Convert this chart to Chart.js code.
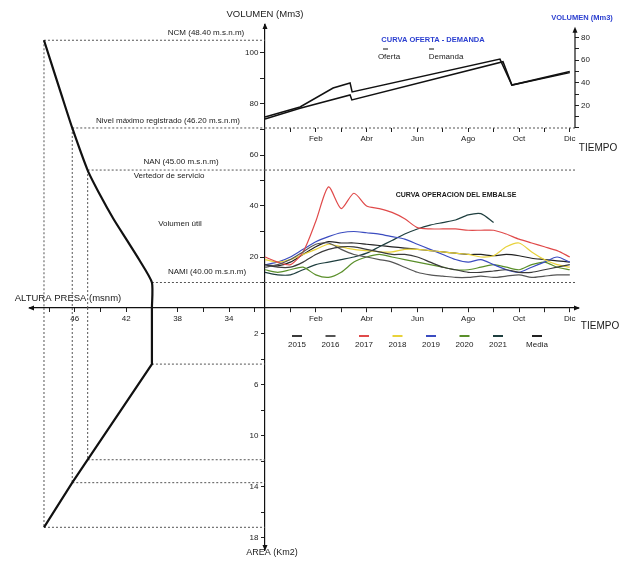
<!DOCTYPE html>
<html>
<head>
<meta charset="utf-8">
<script src="https://cdn.jsdelivr.net/npm/chart.js@4.4.1/dist/chart.umd.min.js"></script>
<style>
  html, body { margin: 0; padding: 0; background: #fff; }
  canvas { display: block; }
</style>
</head>
<body>
<canvas id="embalse" width="619" height="562"></canvas>
<script>
// Curva altura - volumen y altura - area
const alturaVol = [40, 41, 42, 43, 44, 45, 46.2, 47, 48.4];
const volumen = [10, 19, 27, 35, 44, 54, 70.6, 83, 105];
const alturaArea = [40, 45, 46.2, 48.4];
const area = [4.4, 11.9, 13.7, 17.2];

// Niveles de referencia: NCM, max. registrado, NAN, NAMI
const niveles = [48.4, 46.2, 45.0, 40.0];
const volNivel = [105, 70.6, 54.1, 10];
const areaNivel = [17.2, 13.7, 11.9, 4.4];

// Curva oferta - demanda (mes, Mm3)
const mesOferta = [0, 1.38, 2.68, 3.35, 3.43, 9.25, 9.72, 12];
const oferta = [9.7, 18.6, 35.4, 39.8, 31.9, 61, 38, 50];
const mesDemanda = [0, 1.38, 3.35, 3.42, 9.37, 9.72, 12];
const demanda = [8, 17.4, 29.2, 24.8, 58.7, 38, 49];

// Curva de operacion del embalse (cada medio mes)
const tOper = [0, 0.5, 1, 1.5, 2, 2.5, 3, 3.5, 4, 4.5, 5, 5.5, 6, 6.5, 7, 7.5, 8, 8.5, 9, 9.5, 10, 10.5, 11, 11.5, 12];
const op2015 = [17, 16, 16, 18, 21, 23, 24, 24, 23, 22, 21, 21, 20, 18, 16, 15, 14, 14, 14.5, 15, 14, 14, 15, 16, 17];
const op2016 = [16, 17, 19, 22, 25, 25.5, 23, 21, 20, 19, 18, 16, 14, 13, 12.5, 12, 12, 12.5, 12, 12.5, 13, 12, 12.5, 13, 13];
const op2017 = [20, 18, 17, 22, 34, 47.5, 39, 45, 40, 39, 37.5, 35, 31.5, 31, 31, 31, 30.5, 30.5, 30.5, 29, 27, 25.5, 24, 22.5, 20];
const op2018 = [19, 18, 19, 21, 23, 25, 24, 23, 22.5, 22, 22, 23, 23, 22.5, 22, 21.5, 21, 20, 20.5, 24, 25.5, 22, 19, 17, 16];
const op2019 = [17, 18, 20, 23, 26, 28, 29.5, 30, 29.5, 29, 28, 27, 25, 23, 21, 19, 18, 19, 17, 15, 14, 16, 18, 20, 18];
const op2020 = [15, 14, 15, 16, 13, 12, 14, 18, 20, 21, 20, 19, 18, 17, 16, 15, 15, 16, 17, 16, 15, 17, 18, 16, 15];
const op2021 = [14, 13, 13, 15, 17, 18, 19, 20, 21.5, 24, 26.5, 29, 31, 32.5, 33.5, 34.5, 36.5, 37, 33.5];
const opMedia = [17, 16.5, 18, 21, 24, 26, 25.5, 25.5, 25, 24.5, 24, 23.5, 23, 22.5, 22, 21.5, 21, 21, 20.5, 21, 20.5, 19.5, 19, 18.5, 18];

const anios = ['2015', '2016', '2017', '2018', '2019', '2020', '2021', 'Media'];
const colores = ['#3a3a3a', '#555555', '#e04a4a', '#e8d23a', '#3b4cc0', '#5a8f2a', '#1f3f3f', '#222222'];
const meses = ['Ene', 'Feb', 'Mar', 'Abr', 'May', 'Jun', 'Jul', 'Ago', 'Sep', 'Oct', 'Nov', 'Dic'];

// ejes: ubicacion en pixeles
const AREA = { left: 30, right: 575, top: 25, bottom: 550 };
const ORIG = { x: 265, y: 308 };
const pxMes = 25.4, pxAltura = 12.85, pxVol = 2.55, pxArea = 12.75, pxVolR = 1.13, y0R = 128;
const h0 = 31.2; // altura en el cruce de los ejes

const zip = (xs, ys) => ys.map((v, i) => ({ x: xs[i], y: v }));
const rango = (a, b, s) => { const r = []; for (let v = a; v <= b + 1e-9; v += s) r.push({ value: v }); return r; };

function punteado(xAxisID, yAxisID, pts) {
  return { data: pts, xAxisID, yAxisID, borderColor: '#555', borderWidth: 1,
    borderDash: [2, 2], pointRadius: 0, tension: 0, order: 10 };
}

const datasets = [];

// curva altura - volumen / area
datasets.push({ data: [{ x: alturaVol[0], y: 0 }].concat(zip(alturaVol, volumen)), xAxisID: 'xh', yAxisID: 'y',
  borderColor: '#111', borderWidth: 2.2, pointRadius: 0, tension: 0.2 });
datasets.push({ data: [{ x: alturaArea[0], y: 0 }].concat(zip(alturaArea, area)), xAxisID: 'xh', yAxisID: 'yA',
  borderColor: '#111', borderWidth: 2.2, pointRadius: 0, tension: 0 });

// lineas de referencia punteadas
niveles.forEach((h, i) => {
  if (i < 3) {
    datasets.push(punteado('xh', 'y', [{ x: h, y: volNivel[i] }, { x: h, y: 0 }]));
    datasets.push(punteado('xh', 'yA', [{ x: h, y: 0 }, { x: h, y: areaNivel[i] }]));
  }
  datasets.push(punteado('xh', 'y', [{ x: h, y: volNivel[i] }, { x: h0, y: volNivel[i] }]));
  datasets.push(punteado('xh', 'yA', [{ x: h, y: areaNivel[i] }, { x: h0, y: areaNivel[i] }]));
  if (i >= 2) datasets.push(punteado('xm', 'y', [{ x: 0, y: volNivel[i] }, { x: 12.4, y: volNivel[i] }]));
});
datasets.push(punteado('xm', 'yR', [{ x: 0, y: 0 }, { x: 12.4, y: 0 }]));

// oferta - demanda
datasets.push({ label: 'Oferta', data: zip(mesOferta, oferta), xAxisID: 'xm', yAxisID: 'yR',
  borderColor: '#111', borderWidth: 1.5, pointRadius: 0, tension: 0 });
datasets.push({ label: 'Demanda', data: zip(mesDemanda, demanda), xAxisID: 'xm', yAxisID: 'yR',
  borderColor: '#111', borderWidth: 1.5, pointRadius: 0, tension: 0 });

// operacion
[op2015, op2016, op2017, op2018, op2019, op2020, op2021, opMedia].forEach((serie, i) => {
  datasets.push({ label: anios[i], data: zip(tOper, serie), xAxisID: 'xm', yAxisID: 'y',
    borderColor: colores[i], borderWidth: 1.2, pointRadius: 0, tension: 0.25 });
});

const fontTick = { family: 'Liberation Sans', size: 8 };
const gridTick = { drawOnChartArea: false, tickLength: 4, color: '#222', lineWidth: 1 };

const textos = [
  { t: 'VOLUMEN (Mm3)', x: 265, y: 14, f: '9.5px' },
  { t: 'NCM (48.40 m.s.n.m)', x: 206, y: 33, f: '8px' },
  { t: 'Nivel máximo registrado (46.20 m.s.n.m)', x: 168, y: 121, f: '8px' },
  { t: 'NAN (45.00 m.s.n.m)', x: 181, y: 162, f: '8px' },
  { t: 'Vertedor de servicio', x: 169, y: 176, f: '8px' },
  { t: 'Volumen útil', x: 180, y: 224, f: '8px' },
  { t: 'NAMI (40.00 m.s.n.m)', x: 207, y: 272, f: '8px' },
  { t: 'ALTURA PRESA (msnm)', x: 68, y: 298, f: '9.5px' },
  { t: 'AREA (Km2)', x: 272, y: 553, f: '9px' },
  { t: 'TIEMPO', x: 598, y: 148, f: '10px' },
  { t: 'TIEMPO', x: 600, y: 326, f: '10px' },
  { t: 'VOLUMEN (Mm3)', x: 582, y: 18, f: 'bold 7.5px', c: '#2b3fd0' },
  { t: 'CURVA OFERTA - DEMANDA', x: 433, y: 40, f: 'bold 7.5px', c: '#2b3fd0' },
  { t: 'Oferta', x: 389, y: 57, f: '8px' },
  { t: 'Demanda', x: 446, y: 57, f: '8px' },
  { t: 'CURVA OPERACION DEL EMBALSE', x: 456, y: 195, f: 'bold 7px' }
];

function flecha(ctx, x, y, dir) {
  const s = 4;
  ctx.beginPath();
  if (dir === 'up') { ctx.moveTo(x, y); ctx.lineTo(x - s / 2 - 0.5, y + s + 2); ctx.lineTo(x + s / 2 + 0.5, y + s + 2); }
  if (dir === 'down') { ctx.moveTo(x, y); ctx.lineTo(x - s / 2 - 0.5, y - s - 2); ctx.lineTo(x + s / 2 + 0.5, y - s - 2); }
  if (dir === 'left') { ctx.moveTo(x, y); ctx.lineTo(x + s + 2, y - s / 2 - 0.5); ctx.lineTo(x + s + 2, y + s / 2 + 0.5); }
  if (dir === 'right') { ctx.moveTo(x, y); ctx.lineTo(x - s - 2, y - s / 2 - 0.5); ctx.lineTo(x - s - 2, y + s / 2 + 0.5); }
  ctx.closePath();
  ctx.fill();
}

const decoracion = {
  id: 'decoracion',
  afterDraw(chart) {
    const ctx = chart.ctx;
    const ca = chart.chartArea;
    const { xm, y, yR } = chart.scales;
    const ox = xm.getPixelForValue(0), oy = y.getPixelForValue(0);
    ctx.save();
    ctx.fillStyle = '#111';
    ctx.strokeStyle = '#111';
    ctx.lineWidth = 1.2;
    // eje derecho del grafico oferta-demanda
    const ry0 = yR.getPixelForValue(0), ry1 = yR.getPixelForValue(87);
    ctx.beginPath(); ctx.moveTo(ca.right, ry0); ctx.lineTo(ca.right, ry1); ctx.stroke();
    flecha(ctx, ca.right, ry1 - 3, 'up');
    // extension del eje del tiempo
    ctx.beginPath(); ctx.moveTo(ca.right, oy); ctx.lineTo(ca.right + 4, oy); ctx.stroke();
    flecha(ctx, ca.right + 5, oy, 'right');
    flecha(ctx, ca.left - 2, oy, 'left');
    flecha(ctx, ox, ca.top - 2, 'up');
    flecha(ctx, ox, ca.bottom + 1, 'down');

    ctx.textAlign = 'center';
    ctx.textBaseline = 'middle';
    textos.forEach(o => {
      ctx.font = o.f + ' "Liberation Sans", Arial, sans-serif';
      ctx.fillStyle = o.c || '#1a1a1a';
      ctx.fillText(o.t, o.x, o.y);
    });

    // leyenda oferta - demanda
    ctx.lineWidth = 1;
    [[383, 388], [429, 434]].forEach(([a, b]) => { ctx.beginPath(); ctx.moveTo(a, 49); ctx.lineTo(b, 49); ctx.stroke(); });

    // leyenda de anios
    ctx.font = '8px "Liberation Sans", Arial, sans-serif';
    anios.forEach((a, i) => {
      const cx = i < 7 ? 297 + i * 33.5 : 537;
      ctx.strokeStyle = colores[i];
      ctx.lineWidth = 2;
      ctx.beginPath(); ctx.moveTo(cx - 5, 336); ctx.lineTo(cx + 5, 336); ctx.stroke();
      ctx.fillStyle = '#1a1a1a';
      ctx.fillText(a, cx, 345);
    });
    ctx.restore();
  }
};

Chart.defaults.font.family = 'Liberation Sans';

new Chart(document.getElementById('embalse'), {
  type: 'line',
  data: { datasets },
  plugins: [decoracion],
  options: {
    responsive: false,
    animation: false,
    events: [],
    layout: { padding: { left: AREA.left, top: AREA.top, bottom: 562 - AREA.bottom, right: 0 } },
    plugins: { legend: { display: false }, tooltip: { enabled: false } },
    scales: {
      xm: {
        axis: 'x', type: 'linear', position: { y: 0 }, bounds: 'data',
        min: -(ORIG.x - AREA.left) / pxMes, max: (AREA.right - ORIG.x) / pxMes,
        afterBuildTicks: s => { s.ticks = rango(1, 12, 1); },
        ticks: { autoSkip: false, maxRotation: 0, padding: 2, font: fontTick, color: '#222',
          callback: v => (v % 2 === 0 ? meses[v - 1] : '') },
        grid: gridTick,
        border: { color: '#111', width: 1.2 }
      },
      xh: {
        axis: 'x', type: 'linear', position: { y: 0 }, bounds: 'data', reverse: true,
        min: h0 - (AREA.right - ORIG.x) / pxAltura, max: h0 + (ORIG.x - AREA.left) / pxAltura,
        afterBuildTicks: s => { s.ticks = rango(32, 48, 2); },
        ticks: { autoSkip: false, maxRotation: 0, padding: 2, font: fontTick, color: '#222',
          callback: v => (v % 4 === 2 ? v : '') },
        grid: gridTick,
        border: { display: false }
      },
      xm2: {
        axis: 'x', type: 'linear', position: { yR: 0 }, bounds: 'data',
        min: -(ORIG.x - AREA.left) / pxMes, max: (AREA.right - ORIG.x) / pxMes,
        afterBuildTicks: s => { s.ticks = rango(1, 12, 1); },
        ticks: { autoSkip: false, maxRotation: 0, padding: 2, font: fontTick, color: '#222',
          callback: v => (v % 2 === 0 ? meses[v - 1] : '') },
        grid: gridTick,
        border: { display: false }
      },
      y: {
        axis: 'y', type: 'linear', position: { xm: 0 }, bounds: 'data',
        min: -(AREA.bottom - ORIG.y) / pxVol, max: (ORIG.y - AREA.top) / pxVol,
        afterBuildTicks: s => { s.ticks = rango(10, 100, 10); },
        ticks: { autoSkip: false, padding: 3, font: fontTick, color: '#222',
          callback: v => (v % 20 === 0 ? v + '   ' : '') },
        grid: gridTick,
        border: { color: '#111', width: 1.2 }
      },
      yA: {
        axis: 'y', type: 'linear', position: { xm: 0 }, bounds: 'data', reverse: true,
        min: -(ORIG.y - AREA.top) / pxArea, max: (AREA.bottom - ORIG.y) / pxArea,
        afterBuildTicks: s => { s.ticks = rango(2, 18, 2); },
        ticks: { autoSkip: false, padding: 3, font: fontTick, color: '#222',
          callback: v => (v % 4 === 2 ? v + '   ' : '') },
        grid: gridTick,
        border: { display: false }
      },
      yR: {
        axis: 'y', type: 'linear', position: 'right', bounds: 'data',
        min: -(AREA.bottom - y0R) / pxVolR, max: (y0R - AREA.top) / pxVolR,
        afterBuildTicks: s => { s.ticks = rango(0, 80, 10); },
        afterFit: s => { s.width = 619 - AREA.right; },
        ticks: { autoSkip: false, padding: 2, font: fontTick, color: '#222',
          callback: v => (v > 0 && v % 20 === 0 ? v : '') },
        grid: gridTick,
        border: { display: false }
      }
    }
  }
});
</script>
</body>
</html>
